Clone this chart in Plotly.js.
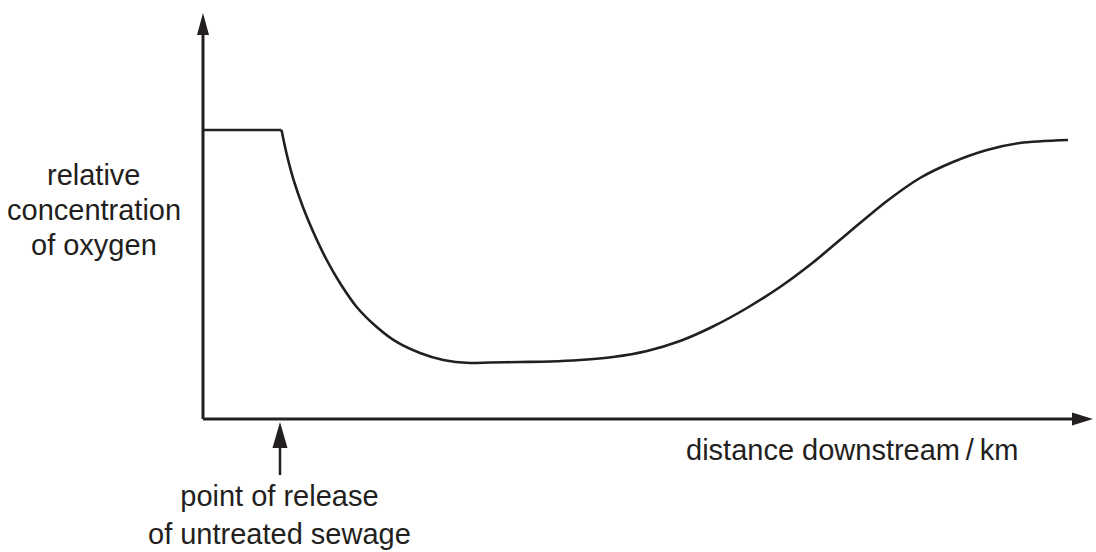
<!DOCTYPE html>
<html>
<head>
<meta charset="utf-8">
<script src="https://cdn.plot.ly/plotly-3.0.1.min.js"></script>
<style>
  html, body { margin: 0; padding: 0; background: #ffffff; }
  #chart { width: 1096px; height: 552px; }
</style>
</head>
<body>
<div id="chart"></div>
<script>
// distance downstream (arbitrary units, 0–100 along the x axis)
const distance = [0, 8.82, 9.40, 10.15, 11.27, 12.39, 13.90, 15.39, 17.27, 19.52, 21.76,
  24.38, 27.00, 30.00, 32.25, 35.62, 38.99, 42.36, 46.07, 49.89, 53.60, 57.30,
  61.12, 64.83, 68.54, 73.03, 76.85, 80.56, 84.27, 88.09, 91.80, 97.19];
// relative concentration of oxygen (arbitrary units, 0–100 along the y axis)
const oxygen = [71.18, 71.18, 65.27, 59.11, 51.97, 46.06, 39.16, 33.50, 27.59, 22.66, 18.97,
  16.26, 14.53, 13.79, 13.92, 14.04, 14.16, 14.53, 15.27, 16.75, 19.21, 22.78,
  27.34, 32.51, 38.55, 46.80, 53.69, 59.36, 63.30, 66.26, 67.98, 68.72];
const releasePoint = 8.65;
const xTitle = 'distance downstream\u2009/\u2009km';
const yTitleLines = ['relative', 'concentration', 'of oxygen'];
const releaseLabel = 'point of release<br>of untreated sewage';

const ink = '#231f20';
const font = { family: 'Liberation Sans, Arial, sans-serif', size: 29, color: ink };

// flat stretch upstream of the release point
const traceUpstream = {
  x: distance.slice(0, 2), y: oxygen.slice(0, 2), type: 'scatter', mode: 'lines',
  line: { color: ink, width: 2.6 }, hoverinfo: 'skip', showlegend: false
};
// sag curve downstream of the release point
const traceDownstream = {
  x: distance.slice(1), y: oxygen.slice(1), type: 'scatter', mode: 'lines',
  line: { color: ink, width: 2.6, shape: 'spline', smoothing: 0.8 },
  hoverinfo: 'skip', showlegend: false
};

const shapes = [
  // x axis line
  { type: 'line', xref: 'paper', yref: 'paper', x0: 0, x1: 0.985, y0: 0, y1: 0,
    line: { color: ink, width: 3 } },
  // y axis line
  { type: 'line', xref: 'paper', yref: 'paper', x0: 0, x1: 0, y0: 0, y1: 0.97,
    line: { color: ink, width: 3 } },
  // x axis arrowhead
  { type: 'path', xref: 'paper', yref: 'paper', xsizemode: 'pixel', ysizemode: 'pixel',
    xanchor: 1, yanchor: 0, path: 'M0,0L-21,6.5L-21,-6.5Z',
    fillcolor: ink, line: { width: 0 } },
  // y axis arrowhead
  { type: 'path', xref: 'paper', yref: 'paper', xsizemode: 'pixel', ysizemode: 'pixel',
    xanchor: 0, yanchor: 1, path: 'M0,0L-6,-22L6,-22Z',
    fillcolor: ink, line: { width: 0 } },
  // release arrow shaft
  { type: 'path', xref: 'x', yref: 'paper', xsizemode: 'pixel', ysizemode: 'pixel',
    xanchor: releasePoint, yanchor: 0, path: 'M0,-28L0,-56',
    line: { color: ink, width: 2.5 } },
  // release arrowhead
  { type: 'path', xref: 'x', yref: 'paper', xsizemode: 'pixel', ysizemode: 'pixel',
    xanchor: releasePoint, yanchor: 0, path: 'M0,-3L-7.5,-29L7.5,-29Z',
    fillcolor: ink, line: { width: 0 } }
];

const annotations = [
  { xref: 'paper', yref: 'paper', x: 0.729, y: 0, yshift: -13, xanchor: 'center', yanchor: 'top',
    text: xTitle, showarrow: false, font: font },
  { xref: 'x', yref: 'paper', x: releasePoint, y: 0, yshift: -59, xanchor: 'center', yanchor: 'top',
    text: releaseLabel, showarrow: false, font: font }
];
yTitleLines.forEach((t, i) => {
  annotations.push({ xref: 'paper', yref: 'paper', x: -0.1225, y: 0.515, yshift: 35 - 35 * i,
    xanchor: 'center', yanchor: 'middle', text: t, showarrow: false, font: font });
});

const layout = {
  width: 1096, height: 552,
  margin: { l: 203, r: 3, t: 13, b: 133, pad: 0 },
  paper_bgcolor: '#ffffff', plot_bgcolor: '#ffffff',
  showlegend: false,
  xaxis: { range: [0, 100], visible: false, fixedrange: true },
  yaxis: { range: [0, 100], visible: false, fixedrange: true },
  shapes: shapes,
  annotations: annotations,
  font: font
};

Plotly.newPlot('chart', [traceUpstream, traceDownstream], layout, { staticPlot: true, displayModeBar: false });
</script>
</body>
</html>
